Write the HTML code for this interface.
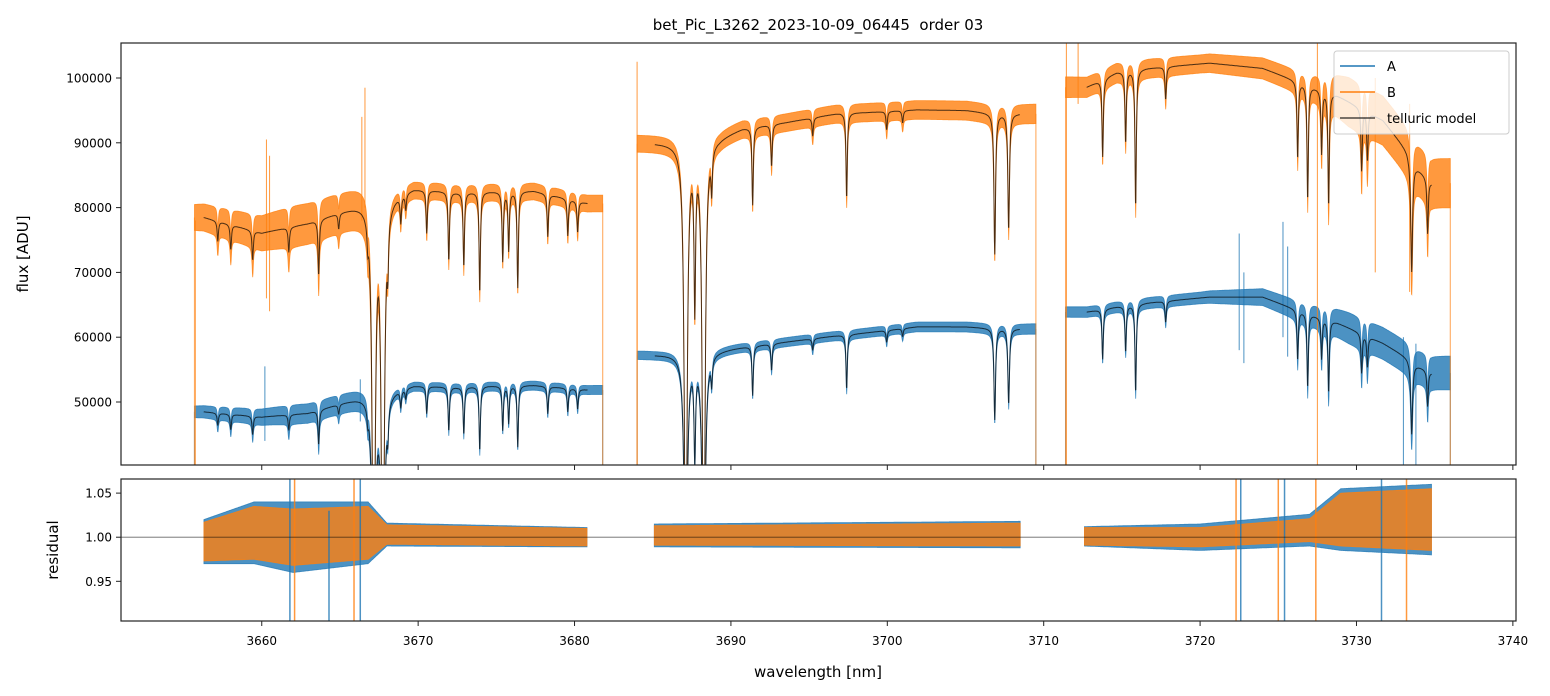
<!DOCTYPE html>
<html><head><meta charset="utf-8"><style>
body{margin:0;background:#fff}
svg{display:block;font-family:"DejaVu Sans","Liberation Sans",sans-serif}
</style></head><body>
<svg id="chart" width="1550" height="696" viewBox="0 0 1550 696">
<defs>
<clipPath id="clipTop"><rect x="121" y="43" width="1395" height="422"/></clipPath>
<clipPath id="clipBot"><rect x="121" y="479" width="1395" height="142"/></clipPath>
</defs>
<rect x="0" y="0" width="1550" height="696" fill="#fff"/>
<text x="818" y="30" text-anchor="middle" font-size="15" fill="#000" style="white-space:pre">bet_Pic_L3262_2023-10-09_06445  order 03</text>
<g id="topMarks" clip-path="url(#clipTop)"></g>
<g id="botMarks" clip-path="url(#clipBot)"></g>
<rect x="121" y="43" width="1395" height="422" fill="none" stroke="#222" stroke-width="1.2"/>
<rect x="121" y="479" width="1395" height="142" fill="none" stroke="#222" stroke-width="1.2"/>
<g id="axes"></g>
<text x="818" y="677" text-anchor="middle" font-size="15">wavelength [nm]</text>
<text transform="translate(28,254) rotate(-90)" text-anchor="middle" font-size="15">flux [ADU]</text>
<text transform="translate(58,550) rotate(-90)" text-anchor="middle" font-size="15">residual</text>
<g id="legendG">
<rect x="1334" y="51" width="175" height="83" rx="3" fill="#fff" fill-opacity="0.8" stroke="#ccc"/>
<line x1="1340" y1="66" x2="1375" y2="66" stroke="#1f77b4" stroke-width="1.5"/>
<text x="1387" y="71" font-size="13">A</text>
<line x1="1340" y1="92" x2="1375" y2="92" stroke="#ff7f0e" stroke-width="1.5"/>
<text x="1387" y="97" font-size="13">B</text>
<line x1="1340" y1="118" x2="1375" y2="118" stroke="#000" stroke-opacity="0.7" stroke-width="1.5"/>
<text x="1387" y="123" font-size="13">telluric model</text>
</g>
</svg>
<script>
// ---- data ----
const segStart=[3655.7,3684.0,3711.4];
const segEnd=[3681.8,3709.5,3736.0];
const contWave=[3656.29,3660,3662.94,3666.78,3669.72,3672.53,3674.45,3677.39,3680.84,
 3685.13,3686.73,3689.28,3690.75,3693.57,3696.96,3698.68,3701.88,3705.08,3706.55,3708.47,
 3712.75,3714.67,3716.59,3720.61,3724.0,3726.56,3728.73,3731.68,3733.21,3733.85,3734.81];
const contB=[78500,76100,77600,80900,83000,82400,82500,82600,80700,
 90000,90000,90900,92300,93200,94600,94700,95100,95000,94600,94500,
 98600,100900,101500,102300,101500,99200,97400,93500,88900,86300,83800];
const contA=[48500,47700,48300,51100,52600,52300,52500,52600,51900,
 57300,57400,58000,58500,59300,60300,60700,61600,61600,61400,61300,
 63900,64700,65300,66200,66200,63900,62300,59100,56900,55700,54500];
const lineWave=[3657.19,3658.02,3659.42,3661.73,3663.64,3664.92,3666.78,3667.16,3667.74,3668.06,3668.89,3669.21,3670.55,3671.96,3672.92,3673.94,3675.41,3675.79,3676.37,3678.29,3679.57,3680.2,
 3687.11,3687.69,3688.26,3688.77,3691.39,3692.6,3695.23,3697.4,3699.96,3700.98,3706.87,3707.76,
 3713.77,3715.24,3715.88,3717.8,3726.24,3726.88,3727.77,3728.22,3730.33,3730.7,3733.53,3734.55];
const lineDepth=[0.04,0.05,0.06,0.05,0.11,0.03,0.04,0.92,0.92,0.09,0.05,0.03,0.08,0.13,0.14,0.19,0.13,0.11,0.18,0.08,0.07,0.06,
 0.85,0.27,0.85,0.07,0.13,0.07,0.03,0.14,0.03,0.02,0.23,0.19,
 0.12,0.11,0.21,0.05,0.12,0.18,0.1,0.18,0.1,0.08,0.2,0.1];
const lineWidth=[0.05,0.05,0.05,0.05,0.05,0.05,0.05,0.1,0.1,0.05,0.05,0.05,0.05,0.05,0.05,0.05,0.05,0.05,0.05,0.05,0.05,0.05,
 0.1,0.06,0.1,0.05,0.05,0.05,0.05,0.05,0.05,0.05,0.06,0.06,
 0.05,0.05,0.05,0.05,0.05,0.05,0.05,0.05,0.05,0.05,0.07,0.05];
const noiseWave=[3655.7,3659.5,3662,3666.8,3668,3681.8,3684,3709.5,3711.4,3720,3727,3729.5,3736];
const noiseB=[2000,2600,3200,3000,1300,1300,1300,1500,1600,1400,1800,3800,3800];
const noiseA=[900,1200,1500,1500,700,700,650,800,800,900,1600,2400,2600];
const spikeWaveB=[3655.75,3660.3,3660.5,3666.4,3666.6,3684.0,3711.45,3712.2,3727.5,3731.2,3733.4];
const spikeLoB=[40280,66000,64000,78000,80000,40280,40280,96000,40280,70000,67000];
const spikeHiB=[78000,90500,88000,94000,98500,102500,105400,105400,105400,100000,96000];
const spikeWaveA=[3660.2,3666.3,3722.5,3722.8,3725.3,3725.6,3733.0,3733.8];
const spikeLoA=[44000,47000,58000,56000,60000,57000,40280,40280];
const spikeHiA=[55500,53500,76000,70000,77800,74000,60000,59000];
const resStart=[3656.3,3685.1,3712.6];
const resEnd=[3680.8,3708.5,3734.8];
const resWave=[3656.3,3659.5,3662,3666.8,3668,3680.8,3685.1,3708.5,3712.6,3720,3727,3729,3734.8];
const resMean=[0.995,1.005,1.0,1.005,1.003,1.0,1.002,1.003,1.001,1.0,1.008,1.02,1.02];
const resNoiseA=[0.025,0.035,0.04,0.035,0.013,0.011,0.013,0.015,0.011,0.015,0.018,0.035,0.04];
const resNoiseB=[0.022,0.03,0.032,0.03,0.011,0.01,0.011,0.013,0.01,0.011,0.013,0.03,0.035];
const resSpikeWave=[3661.8,3662.1,3664.3,3665.9,3666.3,3722.3,3722.6,3725.0,3725.4,3727.4,3731.6,3733.2];
const resSpikeLo=[0.905,0.905,0.905,0.905,0.905,0.905,0.905,0.905,0.905,0.905,0.905,0.905];
const resSpikeHi=[1.066,1.066,1.03,1.066,1.066,1.066,1.066,1.066,1.066,1.066,1.066,1.066];
const xTicks=[3660,3670,3680,3690,3700,3710,3720,3730,3740];
const yTicks=[50000,60000,70000,80000,90000,100000];
const rTicks=[0.95,1.00,1.05];
// ---- scales ----
const X=l=>121+(l-3651)/(3740.2-3651)*1395;
const Y=f=>465-(f-40280)/(105400-40280)*422;
const R=r=>621-(r-0.905)/0.161*142;
const NS='http://www.w3.org/2000/svg';
function mk(tag,attrs,parent){const e=document.createElementNS(NS,tag);for(const k in attrs)e.setAttribute(k,attrs[k]);parent.appendChild(e);return e;}
function interp(ws,vs,l,lo,hi){
  const idx=[];for(let i=0;i<ws.length;i++)if(ws[i]>=lo-1e-6&&ws[i]<=hi+1e-6)idx.push(i);
  if(!idx.length)return vs[0];
  if(l<=ws[idx[0]])return vs[idx[0]];
  for(let k=0;k<idx.length-1;k++){const a=idx[k],b=idx[k+1];if(l<=ws[b]){const t=(l-ws[a])/(ws[b]-ws[a]);return vs[a]+t*(vs[b]-vs[a]);}}
  return vs[idx[idx.length-1]];
}
function trans(l){let f=1;for(let i=0;i<lineWave.length;i++){const d=l-lineWave[i],g=lineWidth[i];f*=1-lineDepth[i]*g*g/(d*d+g*g);}return f;}
const topG=document.getElementById('topMarks'),botG=document.getElementById('botMarks'),axG=document.getElementById('axes');
const step=0.02;
function drawSeries(cont,noise,color,name){
  for(let s=0;s<3;s++){
    const up=[],dn=[];
    for(let l=segStart[s];l<=segEnd[s]+1e-9;l+=step){
      const m=interp(contWave,cont,l,segStart[s],segEnd[s])*trans(l);
      const n=interp(noiseWave,noise,l,segStart[s],segEnd[s]);
      up.push(X(l).toFixed(1)+','+Y(m+n).toFixed(1));
      dn.push(X(l).toFixed(1)+','+Y(m-n).toFixed(1));
    }
    const p=mk('polygon',{points:up.concat(dn.reverse()).join(' '),fill:color,'fill-opacity':0.8,stroke:color,'stroke-opacity':0.8,'stroke-width':0.8},topG);
    
    
    [segStart[s],segEnd[s]].forEach(l=>{
      const m=interp(contWave,cont,l,segStart[s],segEnd[s])*trans(l);
      const e=mk('line',{x1:X(l),x2:X(l),y1:Y(m),y2:Y(40280),stroke:color,'stroke-opacity':0.6,'stroke-width':1.2},topG);
      
      
    });
  }
}
function drawSpikes(ws,lo,hi,color,name){
  for(let i=0;i<ws.length;i++){
    const e=mk('line',{x1:X(ws[i]),x2:X(ws[i]),y1:Y(lo[i]),y2:Y(hi[i]),stroke:color,'stroke-opacity':0.8,'stroke-width':1},topG);
    
    
  }
}
function drawModel(cont,name){
  for(let s=0;s<3;s++){
    const ws=contWave.filter(w=>w>=segStart[s]&&w<=segEnd[s]);
    const a=ws[0],b=ws[ws.length-1],pts=[];
    for(let l=a;l<=b+1e-9;l+=step){pts.push(X(l).toFixed(1)+','+Y(interp(contWave,cont,l,segStart[s],segEnd[s])*trans(l)).toFixed(1));}
    const p=mk('polyline',{points:pts.join(' '),fill:'none',stroke:'#000','stroke-opacity':0.7,'stroke-width':1},topG);
    
    
  }
}
drawSeries(contA,noiseA,'#1f77b4','series-a');
drawSpikes(spikeWaveA,spikeLoA,spikeHiA,'#1f77b4','series-a');
drawSeries(contB,noiseB,'#ff7f0e','series-b');
drawSpikes(spikeWaveB,spikeLoB,spikeHiB,'#ff7f0e','series-b');
drawModel(contA,'telluric-model-a');
drawModel(contB,'telluric-model-b');
function drawRes(noise,color,name){
  for(let s=0;s<3;s++){
    const up=[],dn=[];
    for(let l=resStart[s];l<=resEnd[s]+1e-9;l+=step){
      const m=interp(resWave,resMean,l,resStart[s],resEnd[s]),n=interp(resWave,noise,l,resStart[s],resEnd[s]);
      up.push(X(l).toFixed(1)+','+R(m+n).toFixed(1));dn.push(X(l).toFixed(1)+','+R(m-n).toFixed(1));
    }
    const p=mk('polygon',{points:up.concat(dn.reverse()).join(' '),fill:color,'fill-opacity':0.8,stroke:color,'stroke-opacity':0.8,'stroke-width':0.8},botG);
    
    
  }
}
drawRes(resNoiseA,'#1f77b4','residual-a');
drawRes(resNoiseB,'#ff7f0e','residual-b');
for(let i=0;i<resSpikeWave.length;i++){
  const e=mk('line',{x1:X(resSpikeWave[i]),x2:X(resSpikeWave[i]),y1:R(resSpikeLo[i]),y2:R(resSpikeHi[i]),stroke:i%2?'#ff7f0e':'#1f77b4','stroke-opacity':0.8,'stroke-width':1.5},botG);
  
  
}
const refLine=mk('line',{x1:121,x2:1516,y1:R(1),y2:R(1),stroke:'#000','stroke-opacity':0.6,'stroke-width':0.8},botG);


xTicks.forEach(t=>{
  const x=X(t);
  const a=mk('line',{x1:x,x2:x,y1:465,y2:470,stroke:'#222','stroke-width':1},axG);
  
  
  const b=mk('line',{x1:x,x2:x,y1:621,y2:626,stroke:'#222','stroke-width':1},axG);
  
  
  const tx=mk('text',{x:x,y:645,'text-anchor':'middle','font-size':12},axG);tx.textContent=t;
  
  
});
yTicks.forEach(t=>{
  const y=Y(t);
  const a=mk('line',{x1:116,x2:121,y1:y,y2:y,stroke:'#222','stroke-width':1},axG);
  
  
  const tx=mk('text',{x:112,y:y+4.5,'text-anchor':'end','font-size':12},axG);tx.textContent=t;
  
  
});
rTicks.forEach(t=>{
  const y=R(t);
  const a=mk('line',{x1:116,x2:121,y1:y,y2:y,stroke:'#222','stroke-width':1},axG);
  
  
  const tx=mk('text',{x:112,y:y+4.5,'text-anchor':'end','font-size':12},axG);tx.textContent=t.toFixed(2);
  
  
});
document.getElementById('chart').appendChild(document.getElementById('legendG'));
</script>
</body></html>
